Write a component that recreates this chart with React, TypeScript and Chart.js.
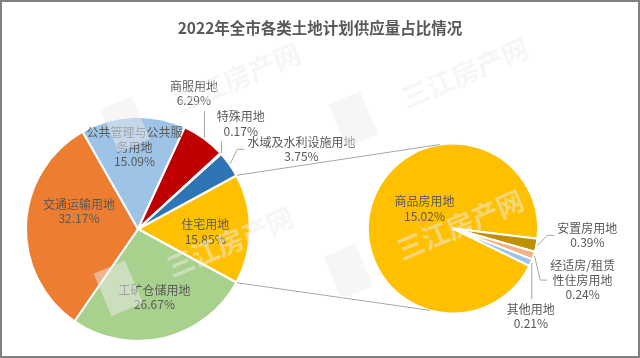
import React, { useEffect, useRef } from "react";
import { Chart, registerables } from "chart.js";

Chart.register(...registerables);

const TITLE = "2022年全市各类土地计划供应量占比情况";

// Main pie (clockwise order, starting with the split-out slice)
const mainCategories = ["住宅用地", "工矿仓储用地", "交通运输用地", "公共管理与公共服务用地", "商服用地", "特殊用地", "水域及水利设施用地"];
const mainValues = [15.85, 26.67, 32.17, 15.09, 6.29, 0.17, 3.75];
const mainColors = ["#FFC000", "#A9D18E", "#ED7D31", "#9DC3E6", "#C00000", "#A5A5A5", "#2E75B6"];

// Secondary pie (breakdown of 住宅用地)
const subCategories = ["商品房用地", "安置房用地", "经适房/租赁性住房用地", "其他用地"];
const subValues = [15.02, 0.39, 0.24, 0.21];
const subColors = ["#FFC000", "#BF9000", "#F4B183", "#9DC3E6"];

// Label layout: f = fraction of radius along mid-angle, dx/dy nudge, wrap = max line width, leader line
type LabelLayout = { f: number; dx: number; dy: number; wrap?: number; leader?: boolean };
const mainLabelLayout: LabelLayout[] = [
  { f: 0.6, dx: 0, dy: 3 },
  { f: 0.63, dx: 0, dy: 0 },
  { f: 0.55, dx: 2.5, dy: -15 },
  { f: 0.73, dx: 0, dy: 0, wrap: 100 },
  { f: 1, dx: -10, dy: -45, leader: true },
  { f: 1, dx: 20, dy: -29.5, leader: true },
  { f: 1, dx: 72, dy: -15, leader: true },
];
const subLabelLayout: LabelLayout[] = [
  { f: 0.35, dx: 0, dy: -11 },
  { f: 1, dx: 51, dy: -10, leader: true },
  { f: 1, dx: 49, dy: 24.5, wrap: 70, leader: true },
  { f: 1, dx: 0, dy: 54, leader: true },
];

const LABEL_FONT = '12px "Noto Sans CJK SC", "Microsoft YaHei", sans-serif';
const TITLE_FONT = 'bold 15.5px "Noto Sans CJK SC", "Microsoft YaHei", sans-serif';
const TEXT_COLOR = "#595959";
const LINE_COLOR = "#A6A6A6";
const LINE_H = 14.5;

const watermarkSpots = [
  [237, 78],
  [465, 73],
  [230, 242],
  [460, 225],
];

function wrapText(ctx: CanvasRenderingContext2D, text: string, maxW?: number): string[] {
  if (!maxW) return [text];
  const lines: string[] = [];
  let cur = "";
  for (const ch of Array.from(text)) {
    if (cur && ctx.measureText(cur + ch).width > maxW) {
      lines.push(cur);
      cur = ch;
    } else cur += ch;
  }
  if (cur) lines.push(cur);
  return lines;
}

function drawLabels(chart: any, cats: string[], vals: number[], layout: LabelLayout[]) {
  const ctx: CanvasRenderingContext2D = chart.ctx;
  const meta = chart.getDatasetMeta(0);
  ctx.save();
  ctx.font = LABEL_FONT;
  ctx.textAlign = "center";
  ctx.textBaseline = "middle";
  meta.data.forEach((arc: any, i: number) => {
    const p = arc.getProps(["x", "y", "startAngle", "endAngle", "outerRadius"], true);
    const mid = (p.startAngle + p.endAngle) / 2;
    const L = layout[i];
    const ax = p.x + Math.cos(mid) * p.outerRadius * L.f;
    const ay = p.y + Math.sin(mid) * p.outerRadius * L.f;
    const cx = ax + L.dx;
    const cy = ay + L.dy;
    const lines = [...wrapText(ctx, cats[i], L.wrap), vals[i].toFixed(2) + "%"];
    const w = Math.max(...lines.map((l) => ctx.measureText(l).width));
    const h = lines.length * LINE_H;
    if (L.leader) {
      const pad = 3;
      const sx = p.x + Math.cos(mid) * (p.outerRadius + 1);
      const sy = p.y + Math.sin(mid) * (p.outerRadius + 1);
      const x0 = cx - w / 2 - pad, x1 = cx + w / 2 + pad;
      const y0 = cy - h / 2 - pad, y1 = cy + h / 2 + pad;
      ctx.beginPath();
      ctx.strokeStyle = LINE_COLOR;
      ctx.lineWidth = 1;
      ctx.moveTo(sx, sy);
      if (sx < x0 || sx > x1) {
        const side = sx < x0 ? x0 : x1;
        const dir = sx < x0 ? -1 : 1;
        ctx.lineTo(side + dir * 7, cy);
        ctx.lineTo(side, cy);
      } else {
        ctx.lineTo(sx, sy < y0 ? y0 : y1);
      }
      ctx.stroke();
    }
    ctx.fillStyle = TEXT_COLOR;
    lines.forEach((l, k) => {
      ctx.fillText(l, cx, cy - h / 2 + LINE_H * (k + 0.5));
    });
  });
  ctx.restore();
}

function pointAt(arcProps: any, angle: number, r: number) {
  return [arcProps.x + Math.cos(angle) * r, arcProps.y + Math.sin(angle) * r];
}

const shareDeg = (v: number, arr: number[]) => (v / arr.reduce((a, b) => a + b, 0)) * 360;

export default function App() {
  const ref1 = useRef<HTMLCanvasElement>(null);
  const ref2 = useRef<HTMLCanvasElement>(null);

  useEffect(() => {
    const mainRotation = 90 - shareDeg(mainValues[0], mainValues) / 2;
    const subRotation = 97 - shareDeg(subValues[0], subValues);

    const c1 = new Chart(ref1.current!, {
      type: "pie",
      data: {
        labels: mainCategories,
        datasets: [
          {
            data: mainValues,
            backgroundColor: mainColors,
            borderColor: "#FFFFFF",
            borderWidth: 2,
          },
        ],
      },
      options: {
        responsive: false,
        animation: false,
        devicePixelRatio: 1,
        rotation: mainRotation,
        radius: 112,
        layout: { padding: { left: 26, right: 390, top: 117, bottom: 17 } },
        plugins: { legend: { display: false }, tooltip: { enabled: false }, title: { display: false } },
      },
      plugins: [
        {
          id: "mainDecor",
          afterDraw(chart: any) {
            const ctx = chart.ctx;
            ctx.save();
            ctx.font = TITLE_FONT;
            ctx.fillStyle = TEXT_COLOR;
            ctx.textAlign = "center";
            ctx.textBaseline = "middle";
            ctx.fillText(TITLE, 320, 28);
            ctx.restore();
            drawLabels(chart, mainCategories, mainValues, mainLabelLayout);
          },
        },
      ],
    } as any);

    const c2 = new Chart(ref2.current!, {
      type: "pie",
      data: {
        labels: subCategories,
        datasets: [
          {
            data: subValues,
            backgroundColor: subColors,
            borderColor: "#FFFFFF",
            borderWidth: 2,
          },
        ],
      },
      options: {
        responsive: false,
        animation: false,
        devicePixelRatio: 1,
        rotation: subRotation,
        radius: 85,
        layout: { padding: { left: 368, right: 102, top: 143.5, bottom: 44.5 } },
        plugins: { legend: { display: false }, tooltip: { enabled: false }, title: { display: false } },
      },
      plugins: [
        {
          id: "subDecor",
          afterDraw(chart: any) {
            const ctx: CanvasRenderingContext2D = chart.ctx;
            // connector lines between split slice and secondary pie
            const srcArc = c1.getDatasetMeta(0).data[0] as any;
            const sp = srcArc.getProps(["x", "y", "startAngle", "endAngle", "outerRadius"], true);
            const dstArc = chart.getDatasetMeta(0).data[0] as any;
            const dp = dstArc.getProps(["x", "y", "outerRadius"], true);
            const a1 = pointAt(sp, sp.startAngle, sp.outerRadius + 0.5);
            const a2 = pointAt(sp, sp.endAngle, sp.outerRadius + 0.5);
            const b1 = pointAt(dp, (-99 * Math.PI) / 180, dp.outerRadius);
            const b2 = pointAt(dp, (105.7 * Math.PI) / 180, dp.outerRadius);
            ctx.save();
            ctx.strokeStyle = LINE_COLOR;
            ctx.lineWidth = 1;
            ctx.beginPath();
            ctx.moveTo(a1[0], a1[1]);
            ctx.lineTo(b1[0], b1[1]);
            ctx.moveTo(a2[0], a2[1]);
            ctx.lineTo(b2[0], b2[1]);
            ctx.stroke();
            ctx.restore();

            drawLabels(chart, subCategories, subValues, subLabelLayout);

            // faint watermark
            ctx.save();
            ctx.fillStyle = "rgba(238,238,238,0.5)";
            ctx.font = 'bold 27px "Noto Sans CJK SC", sans-serif';
            ctx.textAlign = "center";
            ctx.textBaseline = "middle";
            watermarkSpots.forEach(([x, y]) => {
              ctx.save();
              ctx.translate(x, y);
              ctx.rotate((-23 * Math.PI) / 180);
              ctx.fillText("三江房产网", 0, 0);
              ctx.fillRect(-138, -24, 34, 46);
              ctx.restore();
            });
            ctx.restore();
          },
        },
      ],
    } as any);

    return () => {
      c2.destroy();
      c1.destroy();
    };
  }, []);

  return (
    <div style={{ position: "fixed", left: 0, top: 0, width: 640, height: 358, background: "#FFFFFF", overflow: "hidden" }}>
      <canvas ref={ref1} width={640} height={358} style={{ position: "absolute", left: 0, top: 0 }} />
      <canvas ref={ref2} width={640} height={358} style={{ position: "absolute", left: 0, top: 0 }} />
      <div
        style={{
          position: "absolute",
          left: 0,
          top: 0,
          width: 640,
          height: 358,
          border: "2px solid #808080",
          boxSizing: "border-box",
          pointerEvents: "none",
        }}
      />
    </div>
  );
}
